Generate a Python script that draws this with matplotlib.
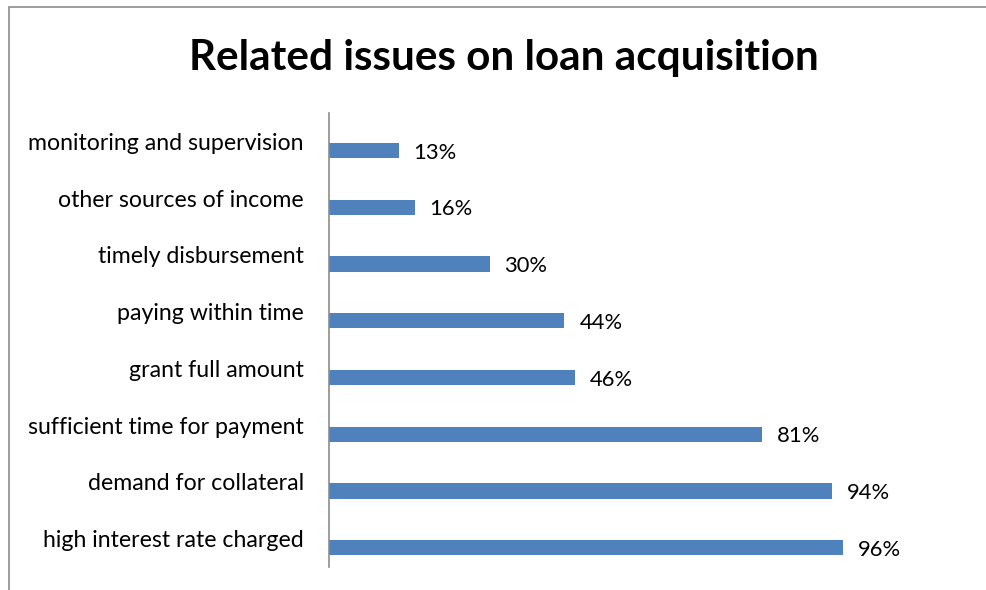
import matplotlib.pyplot as plt
from matplotlib.patches import Rectangle

# data, top to bottom as in the chart
issues = ['monitoring and supervision', 'other sources of income', 'timely disbursement',
          'paying within time', 'grant full amount', 'sufficient time for payment',
          'demand for collateral', 'high interest rate charged']
shares = [0.13, 0.16, 0.30, 0.44, 0.46, 0.81, 0.94, 0.96]
labels = ['13%', '16%', '30%', '44%', '46%', '81%', '94%', '96%']

plt.rcParams['font.family'] = ['Lato', 'DejaVu Sans']

fig = plt.figure(figsize=(9.86, 5.90), dpi=100)
W, H = 986, 590

# chart border (right and bottom edges fall outside the picture)
fig.patches.append(Rectangle((8.5 / W, -0.1), 1.2, 1 - 7.5 / H + 0.1, transform=fig.transFigure,
                             fill=False, edgecolor='#8c8c8c', linewidth=1.2))

ax = fig.add_axes([329 / W, 1 - 567 / H, (864 - 329) / W, (567 - 113) / H])
pos = list(range(len(issues)))
off = 0.16
ax.barh([p + off for p in pos], shares, height=0.27, color='#4f81bd')
for p, v, t in zip(pos, shares, labels):
    ax.text(v + 0.028, p + off + 0.04, t, va='center', ha='left', fontsize=15.8)

ax.set_xlim(0, 1)
ax.set_ylim(len(issues) - 0.5, -0.5)
ax.set_yticks(pos)
ax.set_yticklabels(issues, fontsize=16.7)
ax.tick_params(axis='y', length=0, pad=18)
ax.set_xticks([])
for s in ['top', 'right', 'bottom']:
    ax.spines[s].set_visible(False)
ax.spines['left'].set_color('#8c8c8c')
ax.spines['left'].set_linewidth(1.2)

fig.text(504 / W, 1 - 58 / H, 'Related issues on loan acquisition', ha='center', va='center',
         fontsize=30.4, fontweight='bold')

fig.savefig('out.png', dpi=100)
